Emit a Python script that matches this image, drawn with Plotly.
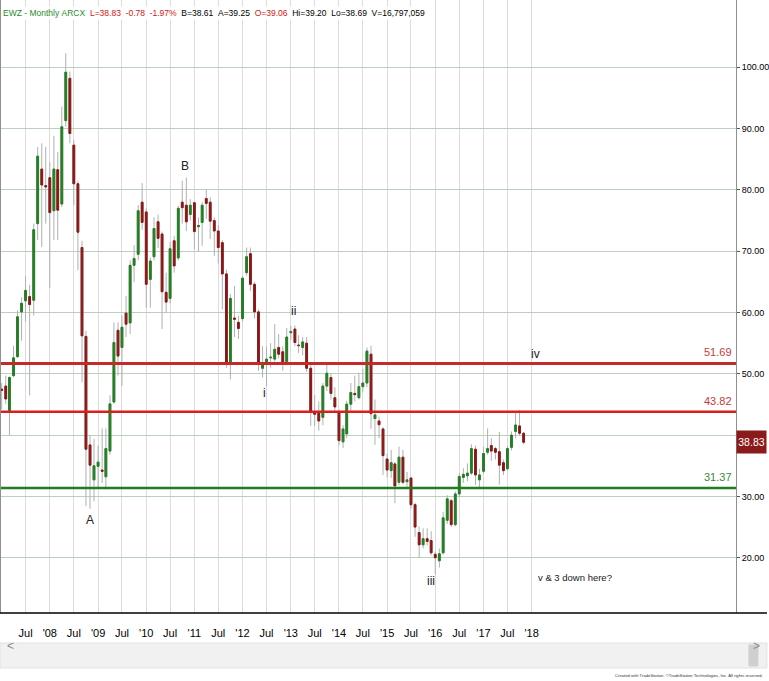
import plotly.graph_objects as go
import pandas as pd

# ---------------- data (monthly EWZ, Jan 2007 .. Nov 2017) ----------------
months = pd.date_range("2007-01-01", periods=131, freq="MS")

opens = [
    47.5, 48.0, 44.0, 49.7, 52.8, 60.1, 61.9, 62.6, 62.0, 74.5,
    83.4, 80.7, 82.0, 76.6, 83.3, 77.7, 91.3, 98.2, 87.3, 81.0,
    70.6, 56.1, 38.4, 32.7, 34.9, 34.3, 33.2, 37.4, 45.4, 57.1,
    54.3, 59.9, 58.3, 67.7, 69.5, 78.0, 76.4, 65.4, 69.1, 74.8,
    72.8, 63.3, 62.3, 71.7, 68.9, 78.0, 77.5, 76.0, 77.9, 74.0,
    74.7, 78.6, 78.0, 75.0, 73.3, 71.4, 66.3, 51.9, 59.1, 58.4,
    59.0, 66.5, 69.6, 64.6, 60.1, 50.9, 51.85, 52.6, 52.4, 54.3,
    53.6, 51.95, 56.7, 57.3, 54.7, 54.3, 55.0, 50.9, 43.8, 43.7,
    42.9, 48.0, 49.4, 46.1, 43.8, 38.9, 40.2, 45.05, 46.8, 46.1,
    47.9, 48.5, 53.2, 42.7, 42.3, 41.0, 36.1, 34.2, 35.3, 32.3,
    36.4, 32.4, 33.0, 28.65, 24.1, 22.1, 23.1, 22.8, 20.55, 19.5,
    20.8, 26.1, 29.3, 25.4, 30.4, 33.1, 33.35, 33.8, 37.7, 32.7,
    34.1, 37.2, 38.3, 37.8, 37.3, 35.5, 34.5, 38.0, 40.6, 41.5,
    40.3]

highs = [
    48.5, 49.7, 49.6, 54.6, 60.3, 62.5, 66.0, 64.5, 74.5, 87.0,
    87.6, 87.0, 84.5, 88.8, 86.2, 93.6, 102.3, 99.3, 88.1, 81.5,
    71.7, 57.0, 40.0, 39.4, 38.3, 41.1, 41.1, 46.5, 58.4, 58.4,
    59.5, 62.7, 68.5, 71.0, 77.5, 81.1, 77.0, 69.0, 75.5, 76.0,
    73.2, 66.5, 71.5, 72.5, 77.4, 81.5, 82.0, 78.5, 78.0, 75.5,
    78.0, 80.1, 78.8, 75.5, 74.2, 71.8, 67.0, 63.0, 64.3, 59.5,
    66.0, 70.6, 70.6, 65.0, 60.5, 54.5, 54.5, 55.0, 58.1, 56.5,
    54.5, 57.5, 57.8, 57.9, 56.3, 56.0, 56.0, 51.5, 46.5, 45.5,
    48.5, 51.6, 50.0, 47.8, 44.2, 41.6, 45.6, 48.5, 49.7, 50.2,
    50.8, 54.3, 54.6, 45.8, 43.0, 41.3, 37.0, 37.6, 35.6, 38.1,
    37.6, 34.0, 33.2, 29.0, 25.1, 24.8, 24.8, 24.3, 21.0, 21.5,
    27.5, 30.2, 29.6, 30.8, 33.8, 34.6, 35.4, 38.5, 38.3, 34.5,
    38.1, 41.1, 39.5, 38.1, 40.5, 36.0, 38.2, 40.6, 43.8, 44.1,
    40.5]

lows = [
    44.2, 45.1, 40.0, 49.4, 52.6, 55.4, 58.5, 46.5, 59.5, 71.8,
    70.7, 74.5, 64.0, 71.8, 71.8, 77.2, 90.3, 87.6, 77.5, 66.9,
    48.6, 28.4, 28.0, 29.2, 31.4, 32.2, 31.1, 36.8, 45.1, 49.7,
    48.0, 56.0, 56.5, 65.0, 68.5, 73.5, 60.8, 60.8, 68.5, 70.5,
    57.3, 60.0, 61.5, 66.5, 68.5, 74.5, 73.3, 75.0, 70.3, 70.0,
    70.9, 75.3, 72.0, 69.2, 68.0, 60.5, 51.0, 49.1, 56.0, 55.7,
    58.5, 66.0, 63.5, 59.0, 50.5, 49.4, 48.0, 51.0, 52.0, 52.5,
    50.5, 51.5, 55.5, 54.5, 53.4, 53.0, 50.3, 41.5, 41.5, 40.7,
    41.6, 47.2, 45.8, 44.0, 38.3, 37.9, 39.5, 44.0, 45.5, 45.8,
    47.0, 47.8, 41.0, 38.4, 39.5, 33.5, 33.1, 33.0, 28.9, 31.8,
    32.0, 31.6, 28.0, 23.4, 20.0, 21.5, 22.0, 20.4, 17.3, 18.4,
    20.5, 25.5, 25.0, 25.1, 29.9, 32.2, 32.5, 33.5, 31.9, 31.4,
    33.7, 36.8, 35.8, 36.0, 31.9, 33.5, 34.2, 37.5, 39.5, 39.9,
    38.5]

closes = [
    47.3, 45.9, 49.4, 52.6, 59.3, 61.5, 63.6, 61.3, 73.5, 85.5,
    80.8, 80.5, 76.3, 83.4, 76.7, 90.3, 99.2, 89.2, 81.0, 73.1,
    56.2, 37.7, 35.1, 35.0, 35.6, 34.1, 37.8, 45.1, 55.1, 52.9,
    57.6, 58.1, 67.7, 68.8, 76.6, 74.7, 64.6, 68.4, 73.7, 72.1,
    63.4, 61.7, 70.4, 67.6, 77.0, 77.1, 74.8, 77.5, 73.2, 74.2,
    77.5, 77.8, 74.9, 73.3, 70.6, 66.3, 51.9, 62.3, 58.9, 57.4,
    65.6, 69.1, 64.6, 60.1, 51.85, 51.85, 52.4, 52.7, 54.0, 53.2,
    51.6, 56.0, 56.9, 55.1, 54.6, 55.2, 50.9, 43.8, 43.4, 42.3,
    48.0, 50.1, 46.8, 44.6, 39.1, 41.0, 45.05, 46.95, 46.6, 47.9,
    48.5, 53.7, 43.5, 43.3, 41.7, 36.65, 34.3, 35.5, 31.7, 36.4,
    32.3, 32.7, 28.65, 25.0, 22.1, 23.1, 22.65, 20.8, 20.0, 20.65,
    26.5, 29.6, 25.4, 30.4, 33.25, 33.6, 33.8, 37.8, 33.5, 33.5,
    37.0, 37.8, 37.4, 37.2, 35.1, 34.2, 37.8, 40.0, 41.65, 40.3,
    38.83]

assert len(opens) == len(highs) == len(lows) == len(closes) == len(months)

# horizontal levels
level_values = [51.69, 43.82, 31.37]
level_colors = ["#c42a2a", "#d91e1e", "#1e7e1e"]
level_widths = [3, 2.5, 2.5]
level_label_colors = ["#c43a3a", "#c43a3a", "#3a8a3a"]

# axis ticks
x_tick_dates = ["2007-07-01", "2008-01-01", "2008-07-01", "2009-01-01", "2009-07-01",
                "2010-01-01", "2010-07-01", "2011-01-01", "2011-07-01", "2012-01-01",
                "2012-07-01", "2013-01-01", "2013-07-01", "2014-01-01", "2014-07-01",
                "2015-01-01", "2015-07-01", "2016-01-01", "2016-07-01", "2017-01-01",
                "2017-07-01", "2018-01-01"]
x_tick_labels = ["Jul", "'08", "Jul", "'09", "Jul", "'10", "Jul", "'11", "Jul", "'12",
                 "Jul", "'13", "Jul", "'14", "Jul", "'15", "Jul", "'16", "Jul", "'17",
                 "Jul", "'18"]
y_tick_vals = [20, 30, 40, 50, 60, 70, 80, 90, 100]
y_tick_labels = ["20.00", "30.00", "40.00", "50.00", "60.00", "70.00", "80.00", "90.00", "100.00"]

# wave labels
wave_labels = ["A", "B", "i", "ii", "iii", "iv", "v & 3 down here?"]
wave_x = ["2008-10-28", "2010-10-25", "2012-06-14", "2013-01-20", "2015-12-01",
          "2018-02-01", "2018-11-25"]
wave_y = [26.1, 83.9, 46.8, 60.3, 16.2, 53.2, 16.8]

FONT = "Liberation Sans, Arial, sans-serif"
GREEN = "#237f23"
RED = "#8c1717"
WICK = "#b0b0b0"

# ---------------- figure ----------------
fig = go.Figure()

# wicks (grey)
fig.add_trace(go.Candlestick(
    x=months, open=opens, high=highs, low=lows, close=closes,
    increasing=dict(line=dict(color=WICK, width=1), fillcolor="rgba(0,0,0,0)"),
    decreasing=dict(line=dict(color=WICK, width=1), fillcolor="rgba(0,0,0,0)"),
    hoverinfo="skip", showlegend=False))

# coloured bodies
body_hi = [max(o, c) for o, c in zip(opens, closes)]
body_lo = [min(o, c) for o, c in zip(opens, closes)]
fig.add_trace(go.Candlestick(
    x=months, open=opens, high=body_hi, low=body_lo, close=closes,
    increasing=dict(line=dict(color=GREEN, width=1), fillcolor=GREEN),
    decreasing=dict(line=dict(color=RED, width=1), fillcolor=RED),
    showlegend=False))

shapes = []
annotations = []

W = 737.0   # plot width px
H = 613.0   # plot height px
def px_x(X):
    return (X - 1) / W
def px_y(Y):
    return (H - Y) / H

for v, c, w, lc in zip(level_values, level_colors, level_widths, level_label_colors):
    shapes.append(dict(type="line", xref="paper", yref="y", x0=0, x1=1, y0=v, y1=v,
                       line=dict(color=c, width=w), layer="above"))
    annotations.append(dict(xref="paper", yref="y", x=1, y=v, text=f"{v:.2f}",
                            showarrow=False, xanchor="right", yanchor="bottom",
                            xshift=-2, yshift=3, font=dict(family=FONT, size=11, color=lc)))

# bottom black axis line spanning full width
shapes.append(dict(type="line", xref="paper", yref="paper", x0=px_x(0), x1=px_x(769),
                   y0=0, y1=0, line=dict(color="black", width=1.5)))
# scroll bar
shapes.append(dict(type="rect", xref="paper", yref="paper", x0=px_x(0), x1=px_x(769),
                   y0=px_y(668), y1=px_y(643), fillcolor="#f1f1f1",
                   line=dict(color="#e2e2e2", width=1)))
shapes.append(dict(type="rect", xref="paper", yref="paper", x0=px_x(751), x1=px_x(760),
                   y0=px_y(666), y1=px_y(645), fillcolor="#cfcfcf",
                   line=dict(color="#cfcfcf", width=1)))
annotations.append(dict(xref="paper", yref="paper", x=px_x(5), y=px_y(655), text="&lt;",
                        showarrow=False, font=dict(family=FONT, size=12, color="#888")))
annotations.append(dict(xref="paper", yref="paper", x=px_x(764), y=px_y(655), text="&gt;",
                        showarrow=False, font=dict(family=FONT, size=12, color="#888")))
# footer
annotations.append(dict(xref="paper", yref="paper", x=px_x(767), y=px_y(675),
                        xanchor="right", yanchor="middle", showarrow=False,
                        text="Created with TradeStation. ©TradeStation Technologies, Inc. All rights reserved.",
                        font=dict(family=FONT, size=4.2, color="#333")))

# header
hdr = ("<span style='color:#2a8a2a'>EWZ - Monthly&nbsp;ARCX</span>&nbsp;&nbsp;"
       "<span style='color:#d01515'>L=38.83&nbsp;&nbsp;-0.78&nbsp;&nbsp;-1.97%</span>&nbsp;&nbsp;"
       "B=38.61&nbsp;&nbsp;A=39.25&nbsp;&nbsp;"
       "<span style='color:#d01515'>O=39.06</span>&nbsp;&nbsp;"
       "Hi=39.20&nbsp;&nbsp;Lo=38.69&nbsp;&nbsp;V=16,797,059")
annotations.append(dict(xref="paper", yref="paper", x=px_x(1), y=px_y(13), text=hdr,
                        showarrow=False, xanchor="left", yanchor="middle", bgcolor="white",
                        borderpad=1, font=dict(family=FONT, size=8.5, color="black")))

# wave labels
for t, xx, yy in zip(wave_labels, wave_x, wave_y):
    annotations.append(dict(x=xx, y=yy, text=t, showarrow=False,
                            font=dict(family=FONT, size=12 if len(t) < 5 else 9.5, color="#222")))

# last price tag
annotations.append(dict(xref="paper", yref="y", x=1, y=closes[-1], text=f"{closes[-1]:.2f}",
                        showarrow=False, xanchor="left", yanchor="middle", xshift=0,
                        width=27, height=20, align="center", valign="middle",
                        bgcolor="#8b1a1a", borderpad=1,
                        font=dict(family=FONT, size=10.5, color="white")))

fig.update_layout(
    width=769, height=681,
    margin=dict(l=1, r=31, t=0, b=68, pad=0),
    paper_bgcolor="white", plot_bgcolor="white",
    showlegend=False,
    font=dict(family=FONT, size=11, color="black"),
    shapes=shapes, annotations=annotations,
    xaxis=dict(type="date", range=["2006-12-27", "2022-03-30"],
               rangeslider=dict(visible=False),
               tickvals=x_tick_dates, ticktext=x_tick_labels,
               showgrid=True, gridcolor="#dcdcdc", gridwidth=1,
               ticks="outside", ticklen=10, tickcolor="rgba(0,0,0,0)",
               showline=False, zeroline=False,
               tickfont=dict(family=FONT, size=11, color="black")),
    yaxis=dict(side="right", range=[10.98, 110.98],
               tickvals=y_tick_vals, ticktext=y_tick_labels,
               showgrid=True, gridcolor="#bccfbc", gridwidth=1,
               ticks="outside", ticklen=3, tickcolor="#555",
               showline=True, mirror=True, linecolor="#8f8f8f", linewidth=1,
               zeroline=False,
               tickfont=dict(family=FONT, size=9, color="black")),
)

fig.write_html("out.html", config={"displayModeBar": False},
               post_script="document.body.style.margin='0';document.body.style.overflow='hidden';")
